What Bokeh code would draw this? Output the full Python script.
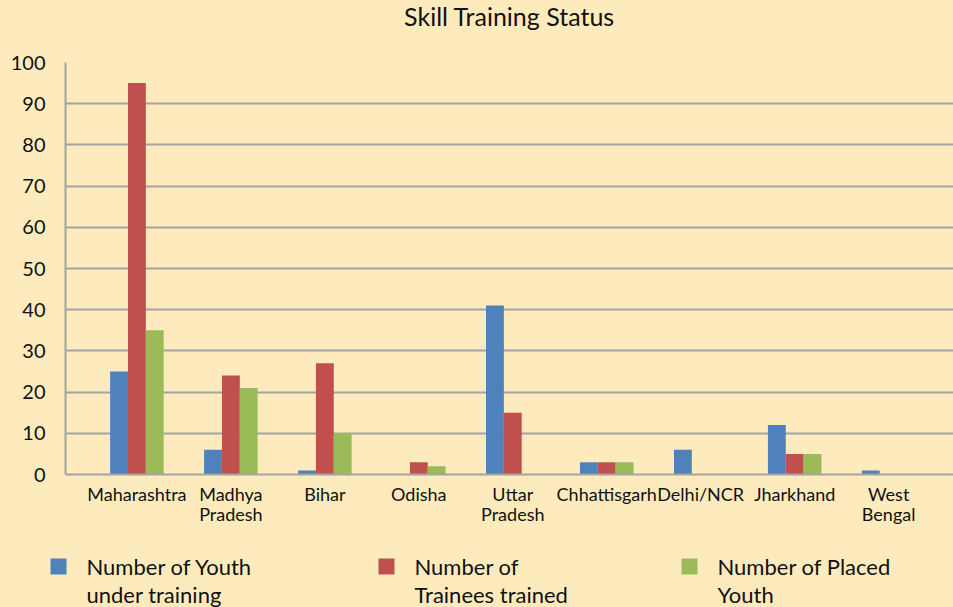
import numpy as np
from bokeh.plotting import figure
from bokeh.layouts import column
from bokeh.models import ColumnDataSource, Range1d, FixedTicker
from bokeh.core.properties import value
from bokeh.transform import dodge
from bokeh.embed import file_html
from bokeh.resources import INLINE

# ---- data ----
states = ["Maharashtra", "Madhya\nPradesh", "Bihar", "Odisha", "Uttar\nPradesh",
          "Chhattisgarh", "Delhi/NCR", "Jharkhand", "West\nBengal"]
under_training = [25, 6, 1, 0, 41, 3, 6, 12, 1]
trainees_trained = [95, 24, 27, 3, 15, 3, 0, 5, 0]
placed_youth = [35, 21, 10, 2, 0, 3, 0, 5, 0]
series_labels = ["Number of Youth\nunder training", "Number of\nTrainees trained",
                 "Number of Placed\nYouth"]
y_ticks = list(range(0, 101, 10))
title_text = "Skill Training Status"

BG = "#FEEBBD"
COLORS = ["#4F81BD", "#C0504D", "#9BBB59"]
GRID = "#A3A3A3"
FONT = "Lato"
TXT = "#111111"

idx = np.arange(len(states))
src = ColumnDataSource(dict(x=idx, a=under_training, b=trainees_trained, c=placed_youth))

# a trailing empty line gives the title block the height needed to sit high above the frame
chart = figure(width=953, height=540, output_backend="svg", toolbar_location=None,
               x_range=Range1d(-0.76, 8.69), y_range=Range1d(0, 100),
               title=title_text + "\n")
chart.frame_align = False
chart.background_fill_color = BG
chart.border_fill_color = BG
chart.outline_line_color = None
chart.min_border_left = 65
chart.min_border_right = 0
chart.min_border_top = 62
chart.min_border_bottom = 66

chart.title.text_font = FONT
chart.title.text_font_size = "25px"
chart.title.text_font_style = "normal"
chart.title.align = "center"
chart.title.vertical_align = "top"
chart.title.text_line_height = 1.0
chart.title.text_color = TXT
chart.title.standoff = 0

w = 0.19
for col, off, color in zip(["a", "b", "c"], [-w, 0, w], COLORS):
    chart.vbar(x=dodge("x", off), top=col, width=w, source=src, fill_color=color,
               line_color=None)

# axes
chart.xaxis.ticker = FixedTicker(ticks=list(idx))
chart.xaxis.major_label_overrides = {int(i): s for i, s in zip(idx, states)}
chart.yaxis.ticker = FixedTicker(ticks=y_ticks)
for ax in (chart.xaxis[0], chart.yaxis[0]):
    ax.axis_line_color = GRID
    ax.axis_line_width = 2
    ax.major_tick_in = 0
    ax.major_tick_out = 0
    ax.minor_tick_line_color = None
    ax.major_label_text_font = FONT
    ax.major_label_text_color = TXT
chart.yaxis.major_label_text_font_size = "20px"
chart.yaxis.major_label_standoff = 20
chart.xaxis.major_label_text_font_size = "18px"
chart.xaxis.major_label_text_line_height = 0.95
chart.xaxis.major_label_standoff = 8

chart.xgrid.grid_line_color = None
chart.ygrid.grid_line_color = GRID
chart.ygrid.grid_line_width = 2
chart.ygrid.ticker = FixedTicker(ticks=y_ticks)

# ---- legend (separate strip under the chart, pixel-space layout) ----
LEG_H = 67
leg = figure(width=953, height=LEG_H, output_backend="svg", toolbar_location=None,
             x_range=Range1d(0, 953), y_range=Range1d(LEG_H, 0),
             x_axis_location=None, y_axis_location=None)
leg.frame_align = False
leg.background_fill_color = BG
leg.border_fill_color = BG
leg.outline_line_color = None
leg.xgrid.grid_line_color = None
leg.ygrid.grid_line_color = None
leg.min_border = 0
leg.min_border_left = 0
leg.min_border_right = 0
leg.min_border_top = 0
leg.min_border_bottom = 0

swatch_left = [50, 378, 681]   # layout positions of the legend entries
swatch_size = 16
swatch_top = 18
text_gap = 20
line_pitch = 28
leg.rect(x=[s + swatch_size / 2 for s in swatch_left],
         y=[swatch_top + swatch_size / 2] * len(COLORS),
         width=swatch_size, height=swatch_size, fill_color=COLORS, line_color=None)
tx, ty, tt = [], [], []
for s, lab in zip(swatch_left, series_labels):
    for k, line in enumerate(lab.split("\n")):
        tx.append(s + swatch_size + text_gap)
        ty.append(swatch_top + swatch_size / 2 + k * line_pitch)
        tt.append(line)
leg.text(x=tx, y=ty, text=tt, text_baseline="middle", text_align="left",
         text_font=value(FONT), text_font_size=value("22px"), text_color=TXT)

p = column(chart, leg, spacing=0, styles={"background-color": BG})
open("out.html", "w").write(file_html(p, INLINE))
